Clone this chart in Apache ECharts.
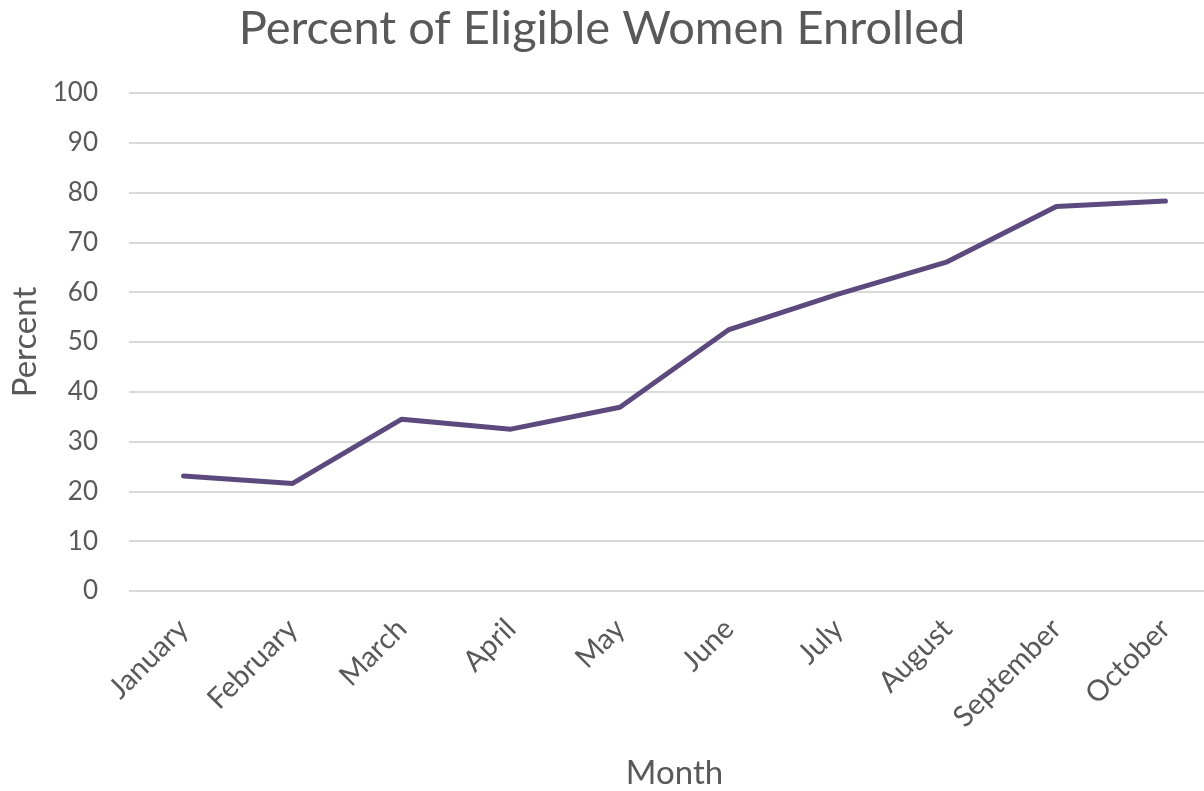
<!DOCTYPE html>
<html><head><meta charset="utf-8">
<script src="https://cdn.jsdelivr.net/npm/echarts@6/dist/echarts.min.js"></script>
<style>html,body{margin:0;padding:0;background:#fff}#c{width:1204px;height:791px}</style>
</head><body><div id="c"></div>
<script>
const categories = ['January','February','March','April','May','June','July','August','September','October'];
const percentValues = [23.1, 21.6, 34.5, 32.5, 36.9, 52.5, 59.6, 66.1, 77.2, 78.3];
const yTicks = [0, 10, 20, 30, 40, 50, 60, 70, 80, 90, 100];

const font = 'Lato, "Open Sans", sans-serif';
const chart = echarts.init(document.getElementById('c'));
chart.setOption({
  animation: false,
  backgroundColor: '#fff',
  title: {
    text: 'Percent of Eligible Women Enrolled',
    left: 'center', top: 0,
    textStyle: {fontFamily: font, fontSize: 47, fontWeight: 'normal', color: '#595959'}
  },
  grid: {left: 129, right: -16, top: 93, bottom: 200, containLabel: false, outerBoundsMode: 'none'},
  xAxis: {
    type: 'category', data: categories, boundaryGap: true,
    name: 'Month', nameLocation: 'middle', nameGap: 166,
    nameTextStyle: {fontFamily: font, fontSize: 33, color: '#595959'},
    axisLine: {show: false}, axisTick: {show: false},
    axisLabel: {rotate: 45, interval: 0, margin: 33, fontFamily: font, fontSize: 29, color: '#595959'}
  },
  yAxis: {
    type: 'value', min: yTicks[0], max: yTicks[yTicks.length-1], interval: 10,
    name: 'Percent', nameLocation: 'middle', nameGap: 87,
    nameTextStyle: {fontFamily: font, fontSize: 33, color: '#595959'},
    axisLine: {show: false}, axisTick: {show: false},
    axisLabel: {margin: 31, fontFamily: font, fontSize: 26, color: '#595959'},
    splitLine: {lineStyle: {color: '#d9d9d9', width: 2}}
  },
  series: [{
    type: 'line', data: percentValues, showSymbol: false, symbol: 'none',
    lineStyle: {color: '#5c4a7e', width: 5, cap: 'round', join: 'round'}
  }]
});
</script></body></html>
